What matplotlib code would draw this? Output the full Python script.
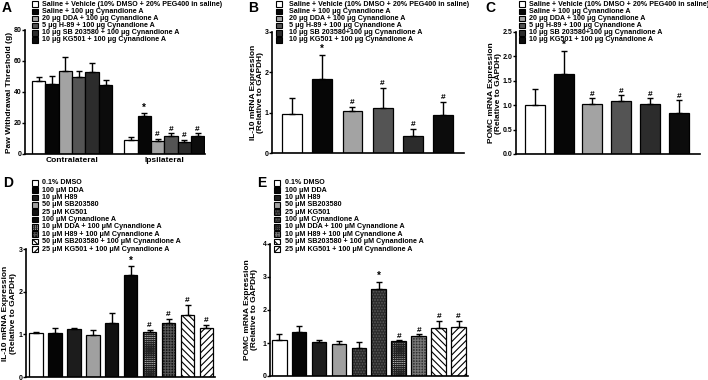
import numpy as np
import matplotlib
matplotlib.use("Agg")
import matplotlib.pyplot as plt
from matplotlib.patches import Rectangle

plt.rcParams['font.family'] = ['Liberation Sans', 'DejaVu Sans']
plt.rcParams['font.weight'] = 'bold'
plt.rcParams['hatch.linewidth'] = 0.8

W, H = 708, 380

# ---- data -------------------------------------------------------------
abc_labels = ['Saline + Vehicle (10% DMSO + 20% PEG400 in saline)',
              'Saline + 100 μg Cynandione A',
              '20 μg DDA + 100 μg Cynandione A',
              '5 μg H-89 + 100 μg Cynandione A',
              '10 μg SB 203580 + 100 μg Cynandione A',
              '10 μg KG501 + 100 μg Cynandione A']
bc_labels = abc_labels[:4] + ['10 μg SB 203580+100 μg Cynandione A', abc_labels[5]]

A_groups = ['Contralateral', 'Ipsilateral']
A_contra = [47.1, 45.0, 53.5, 49.9, 53.1, 44.5]
A_contra_err = [2.8, 5.3, 8.9, 3.6, 5.4, 3.2]
A_ipsi = [8.8, 24.7, 8.2, 11.8, 7.7, 11.8]
A_ipsi_err = [2.4, 1.5, 1.5, 1.5, 1.3, 1.5]

B_vals = [0.96, 1.84, 1.05, 1.12, 0.41, 0.94]
B_err = [0.40, 0.60, 0.10, 0.50, 0.19, 0.33]

C_vals = [1.00, 1.63, 1.03, 1.08, 1.03, 0.84]
C_err = [0.33, 0.49, 0.11, 0.12, 0.11, 0.26]

de_labels = ['0.1% DMSO', '100 μM DDA', '10 μM H89', '50 μM SB203580', '25 μM KG501',
             '100 μM Cynandione A', '10 μM DDA + 100 μM Cynandione A',
             '10 μM H89 + 100 μM Cynandione A', '50 μM SB203580 + 100 μM Cynandione A',
             '25 μM KG501 + 100 μM Cynandione A']
D_vals = [1.02, 1.02, 1.13, 0.98, 1.27, 2.39, 1.06, 1.26, 1.45, 1.15]
D_err = [0.03, 0.12, 0.03, 0.12, 0.22, 0.20, 0.04, 0.11, 0.24, 0.08]
E_vals = [1.09, 1.34, 1.04, 0.96, 0.86, 2.63, 1.05, 1.20, 1.44, 1.47]
E_err = [0.17, 0.17, 0.06, 0.11, 0.18, 0.23, 0.03, 0.06, 0.24, 0.21]

# significance marks (index -> symbol)
marks6 = {1: '*', 2: '#', 3: '#', 4: '#', 5: '#'}
marks10 = {5: '*', 6: '#', 7: '#', 8: '#', 9: '#'}

# ---- styles: (face, hatch, hatch colour) --------------------------------
abc_styles = [('white', None, None), ('#060606', None, None), ('#a3a3a3', None, None),
              ('#545454', None, None), ('#2c2c2c', None, None), ('#0c0c0c', None, None)]
D_styles = [('white', None, None), ('#050505', None, None), ('#1c1c1c', None, None),
            ('#a0a0a0', None, None), ('#101010', None, None), ('#080808', None, None),
            ('white', '++++++++', '#222222'), ('#111111', '++++++', '#555555'),
            ('white', '\\\\\\\\\\', 'black'), ('white', '/////', 'black')]
E_styles = [('white', None, None), ('#050505', None, None), ('#1e1e1e', None, None),
            ('#a0a0a0', None, None), ('#2a2a2a', '......', '#5a5a5a'),
            ('#2a2a2a', '......', '#5a5a5a'),
            ('white', '++++++++', '#222222'), ('#333333', '++++++', '#777777'),
            ('white', '\\\\\\\\\\', 'black'), ('white', '/////', 'black')]

fig = plt.figure(figsize=(W / 100, H / 100), dpi=100)


def add_ax(l, t, r, b):
    return fig.add_axes([l / W, 1 - b / H, (r - l) / W, (b - t) / H])


def style_ax(ax, ylim, yticks, ylabel, lab_px, ax_left, ax_w, ticklabels=None):
    # lab_px = right edge of the y label block, in pixels
    ax.set_ylim(*ylim)
    ax.set_yticks(yticks)
    if ticklabels is not None:
        ax.set_yticklabels(ticklabels)
    for s in ['top', 'right']:
        ax.spines[s].set_visible(False)
    for s in ['left', 'bottom']:
        ax.spines[s].set_linewidth(1.2)
    ax.tick_params(axis='y', length=2, width=1, pad=0.6, labelsize=5)
    ax.tick_params(axis='x', length=0, pad=2, labelsize=6)
    for t in ax.get_yticklabels():
        t.set_fontweight('bold')
    ax.set_ylabel(ylabel, fontsize=6, fontweight='bold', linespacing=1.15)
    ax.yaxis.set_label_coords((lab_px - ax_left) / ax_w, 0.5)


def draw_bars(ax, x, vals, err, styles, width, marks):
    for xi, v, st in zip(x, vals, styles):
        face, hatch, hc = st
        if hatch:
            ax.bar(xi, v, width, color=face, edgecolor=hc, hatch=hatch, linewidth=0, zorder=2)
            ax.bar(xi, v, width, fill=False, edgecolor='black', linewidth=0.9, zorder=3)
        else:
            ax.bar(xi, v, width, color=face, edgecolor='black', linewidth=0.9, zorder=2)
    ax.errorbar(x, vals, yerr=[np.zeros(len(vals)), err], fmt='none', ecolor='black',
                elinewidth=1, capsize=2.2, capthick=1, zorder=4)
    for i, sym in marks.items():
        ax.annotate(sym, (x[i], vals[i] + err[i]), xytext=(0, 0.5), textcoords='offset points',
                    ha='center', va='bottom', fontsize=6 if sym == '#' else 7,
                    fontweight='bold')


def draw_legend(x_box, y0, step, labels, styles, box=5.6, dx=10):
    for i, (lab, st) in enumerate(zip(labels, styles)):
        face, hatch, hc = st
        yc = y0 + i * step
        xy = (x_box / W, 1 - (yc + box / 2) / H)
        if hatch:
            fig.add_artist(Rectangle(xy, box / W, box / H, transform=fig.transFigure,
                                     facecolor=face, edgecolor=hc, hatch=hatch, linewidth=0))
            fig.add_artist(Rectangle(xy, box / W, box / H, transform=fig.transFigure,
                                     fill=False, edgecolor='black', linewidth=0.8))
        else:
            fig.add_artist(Rectangle(xy, box / W, box / H, transform=fig.transFigure,
                                     facecolor=face, edgecolor='black', linewidth=0.8))
        fig.text((x_box + dx) / W, 1 - yc / H, lab, ha='left', va='center',
                 fontsize=5.1, fontweight='bold')


def panel_letter(x, y, s):
    fig.text(x / W, 1 - y / H, s, ha='left', va='center', fontsize=10, fontweight='bold')


# ---- A ----------------------------------------------------------------
axA = add_ax(25, 30, 205, 154)
xc = np.arange(6) + 0.5
xi = np.arange(6) + 7.4
draw_bars(axA, xc, A_contra, A_contra_err, abc_styles, 1.0, {})
draw_bars(axA, xi, A_ipsi, A_ipsi_err, abc_styles, 1.0, marks6)
axA.set_xlim(-0.53, 12.95)
axA.set_xticks([xc.mean(), xi.mean()])
axA.set_xticklabels(A_groups, fontweight='bold')
style_ax(axA, (0, 80), [0, 20, 40, 60, 80], 'Paw Withdrawal Threshold (g)', 13, 25, 180)
draw_legend(32, 4.3, 7.1, abc_labels, abc_styles)
panel_letter(2, 8.5, 'A')

# ---- B ----------------------------------------------------------------
axB = add_ax(272, 32, 464, 153)
x6 = np.arange(6)
draw_bars(axB, x6, B_vals, B_err, abc_styles, 0.656, marks6)
axB.set_xlim(-0.66, 5.69)
axB.set_xticks([])
style_ax(axB, (0, 3), [0, 1, 2, 3], 'IL-10 mRNA Expression\n(Relative to GAPDH)', 264.5, 272, 192)
draw_legend(276, 4.3, 7.1, bc_labels, abc_styles, dx=13)
panel_letter(248, 8.5, 'B')

# ---- C ----------------------------------------------------------------
axC = add_ax(516, 32, 700, 154)
draw_bars(axC, x6, C_vals, C_err, abc_styles, 0.694, marks6)
axC.set_xlim(-0.65, 5.73)
axC.set_xticks([])
style_ax(axC, (0, 2.5), [0, 0.5, 1.0, 1.5, 2.0, 2.5], 'POMC mRNA Expression\n(Relative to GAPDH)',
         502.5, 516, 184, ticklabels=['0.0', '0.5', '1.0', '1.5', '2.0', '2.5'])
draw_legend(519, 4.3, 7.1, bc_labels, abc_styles)
panel_letter(485, 8.5, 'C')

# ---- D ----------------------------------------------------------------
axD = add_ax(26, 249, 215, 377)
x10 = np.arange(10)
draw_bars(axD, x10, D_vals, D_err, D_styles, 0.705, marks10)
axD.set_xlim(-0.53, 9.45)
axD.set_xticks([])
style_ax(axD, (0, 3), [0, 1, 2, 3], 'IL-10 mRNA Expression\n(Relative to GAPDH)', 17, 26, 189)
draw_legend(32, 182.7, 7.37, de_labels, D_styles)
panel_letter(3, 183, 'D')

# ---- E ----------------------------------------------------------------
axE = add_ax(270, 244, 468, 376)
draw_bars(axE, x10, E_vals, E_err, E_styles, 0.74, marks10)
axE.set_xlim(-0.46, 9.47)
axE.set_xticks([])
style_ax(axE, (0, 4), [0, 1, 2, 3, 4], 'POMC mRNA Expression\n(Relative to GAPDH)', 258.5, 270, 198)
draw_legend(274, 182.7, 7.37, de_labels, E_styles, dx=11)
panel_letter(257, 183, 'E')

fig.savefig('out.png', dpi=100)
